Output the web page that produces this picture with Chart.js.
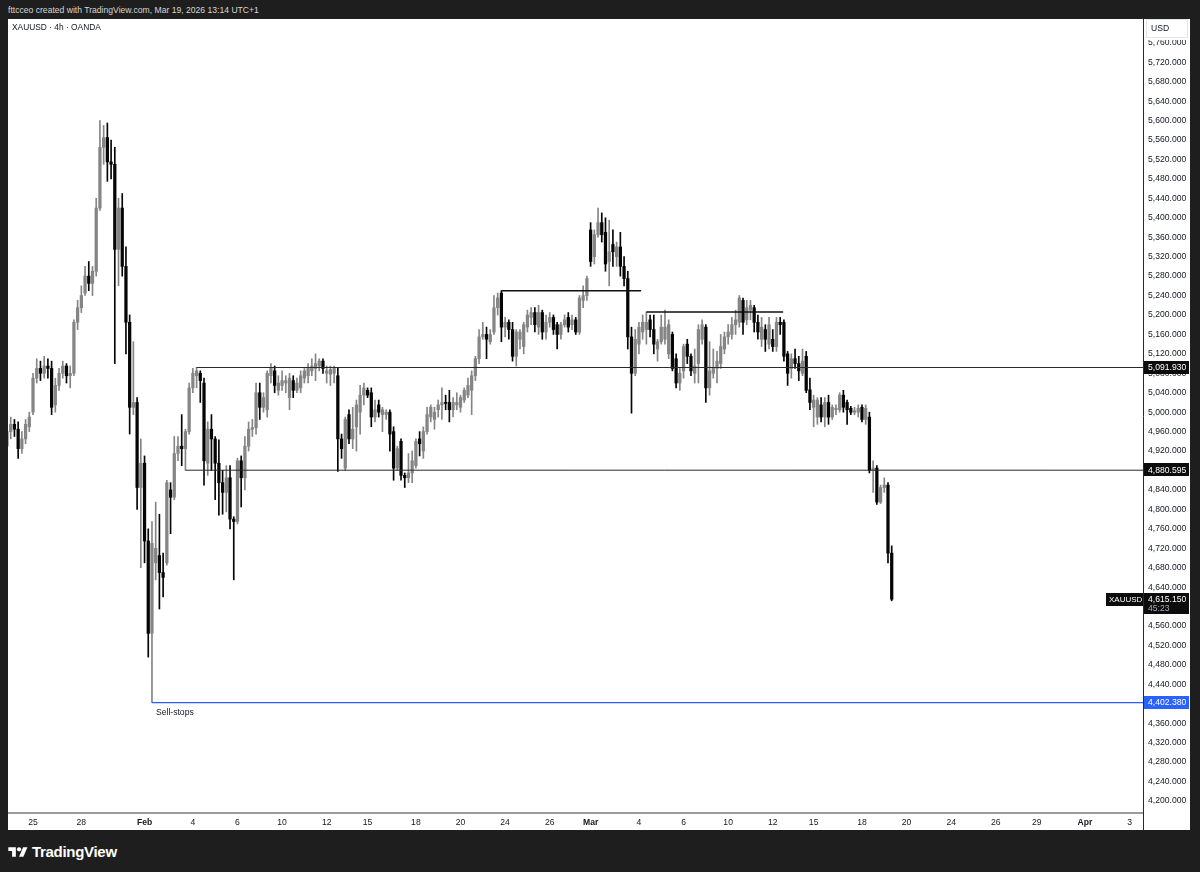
<!DOCTYPE html>
<html>
<head>
<meta charset="utf-8">
<script src="https://cdn.jsdelivr.net/npm/chart.js@4.4.1/dist/chart.umd.min.js"></script>
<style>
  html, body { margin: 0; padding: 0; background: #1e1e1e; width: 1200px; height: 872px; overflow: hidden;
    font-family: "Liberation Sans", Arial, sans-serif; }
  #top { position: absolute; left: 8px; top: 5px; color: #d6d6d6; font-size: 8.6px; }
  #panel { position: absolute; left: 8px; top: 19px; width: 1182px; height: 811px; background: #fff; }
  #brand { position: absolute; left: 8px; top: 843px; color: #fff; font-size: 15px; font-weight: bold;
    display: flex; align-items: center; gap: 4px; letter-spacing: -0.3px; }
</style>
</head>
<body>
<div id="top">fttcceo created with TradingView.com, Mar 19, 2026 13:14 UTC+1</div>
<div id="panel"><canvas id="chartGold" width="1182" height="811"></canvas></div>
<div id="brand">
  <svg width="20" height="14" viewBox="0 0 36 26"><path d="M14 22H7V11H0V4h14v18z" fill="#fff"/><circle cx="20" cy="8" r="4" fill="#fff"/><path d="M28 22h-8l7.5-18h8L28 22z" fill="#fff"/></svg>
  <span>TradingView</span>
</div>
<script>
// XAUUSD 4h candles (OANDA), Jan 23 -> Mar 19 2026, one entry per bar
const opens = [4930,4960,4975,4965,4925,4945,4970,5000,5070,5090,5080,5095,5090,5015,5055,5080,5095,5075,5080,5185,
  5215,5245,5280,5265,5290,5420,5545,5565,5515,5510,5335,5420,5300,5185,5010,5020,4845,4895,4735,4545,
  4690,4705,4670,4690,4840,4825,4915,4930,4925,4960,5050,5075,5080,5060,4895,4965,4945,4895,4855,4835,
  4865,4780,4775,4900,4865,4930,4965,4968,5040,5010,5005,5075,5085,5045,5055,5060,5030,5065,5045,5050,
  5070,5075,5085,5090,5095,5105,5080,5078,5080,5075,4945,4885,4995,4945,4970,5000,5035,5045,5040,4990,
  5015,4995,4995,5000,4960,4885,4940,4870,4865,4875,4890,4945,4920,4960,4990,4985,5005,5015,5020,5020,
  5005,5015,5010,5025,5035,5045,5075,5110,5155,5160,5145,5165,5215,5245,5175,5185,5170,5115,5150,5135,
  5175,5195,5205,5175,5205,5165,5185,5195,5180,5160,5180,5195,5180,5190,5165,5230,5240,5375,5320,5365,
  5390,5370,5310,5345,5320,5340,5300,5275,5155,5080,5140,5165,5170,5190,5170,5130,5145,5150,5120,5160,
  5110,5060,5085,5140,5115,5080,5100,5150,5175,5050,5080,5090,5100,5130,5155,5160,5180,5185,5230,5190,
  5210,5215,5185,5150,5170,5140,5150,5135,5185,5185,5120,5090,5110,5100,5080,5115,5046,5010,4990,5015,
  4990,5020,4990,5005,5005,5035,5020,5008,5000,5000,5010,4985,4990,4880,4885,4815,4845,4850,4710];
const highs = [4975,4990,4985,4980,4960,4985,5000,5080,5110,5105,5115,5110,5105,5070,5090,5105,5100,5095,5190,5230,
  5260,5300,5310,5300,5440,5600,5590,5595,5560,5545,5440,5450,5340,5200,5145,5030,4945,4910,4760,4775,
  4815,4790,4710,4860,4855,4950,4950,4995,4965,5060,5090,5091.93,5085,5070,4980,4995,4950,4943,4880,4890,
  4890,4785,4905,4910,4950,4980,4985,5060,5060,5040,5085,5100,5095,5075,5085,5075,5080,5075,5070,5085,
  5090,5100,5110,5120,5110,5110,5095,5095,5095,5090,4955,4990,5005,5010,5025,5055,5060,5050,5050,5025,
  5025,5010,5005,5005,4970,4930,4945,4875,4915,4920,4945,4960,4970,5010,5015,5010,5025,5050,5035,5045,
  5030,5040,5035,5050,5070,5085,5115,5170,5185,5175,5170,5240,5245,5250,5195,5190,5185,5170,5170,5185,
  5210,5215,5215,5220,5210,5200,5205,5200,5185,5185,5200,5205,5200,5195,5240,5260,5280,5390,5375,5420,
  5410,5400,5395,5375,5350,5370,5320,5290,5175,5170,5185,5200,5206,5200,5200,5150,5200,5210,5190,5165,
  5120,5090,5140,5150,5120,5130,5180,5190,5180,5145,5130,5125,5160,5165,5180,5195,5210,5240,5235,5230,
  5230,5220,5200,5195,5180,5195,5170,5195,5195,5190,5125,5120,5130,5115,5130,5125,5070,5035,5030,5030,
  5030,5035,5015,5015,5040,5045,5025,5012,5010,5015,5015,5015,5000,4900,4890,4850,4865,4855,4725];
const lows = [4900,4945,4950,4905,4915,4935,4960,4995,5060,5065,5070,5070,4995,5000,5045,5070,5060,5050,5075,5170,
  5205,5240,5250,5240,5280,5415,5510,5475,5480,5100,5260,5280,5120,4955,4995,4800,4680,4690,4496,4402.38,
  4655,4595,4620,4685,4750,4820,4900,4890,4880.595,4955,5040,5050,5020,4850,4870,4880,4820,4788,4790,4795,
  4760,4655,4770,4805,4840,4920,4950,4955,4985,5000,4990,5060,5040,5035,5045,5040,5005,5030,5040,5040,
  5060,5060,5075,5065,5085,5080,5060,5055,5060,4878,4905,4880,4935,4925,4920,4955,5015,5030,4970,4980,
  4990,4960,4985,4920,4860,4880,4860,4845,4855,4855,4885,4910,4905,4955,4980,4965,4990,4985,5005,4980,
  4990,5005,5000,5020,5030,4995,5065,5100,5150,5110,5140,5160,5200,5145,5155,5150,5105,5095,5130,5120,
  5165,5180,5165,5160,5150,5150,5175,5160,5130,5150,5175,5165,5170,5160,5160,5215,5230,5300,5305,5360,
  5350,5290,5260,5300,5300,5280,5260,5130,4998,5075,5120,5150,5140,5155,5120,5105,5140,5140,5110,5085,
  5050,5045,5070,5100,5075,5060,5060,5140,5020,5035,5070,5060,5090,5120,5140,5150,5160,5175,5160,5180,
  5190,5165,5150,5135,5125,5130,5125,5125,5160,5105,5055,5070,5090,5065,5075,5040,5005,4970,4975,4980,
  4970,4975,4985,4995,5000,5000,4975,4995,4995,4990,4980,4975,4875,4835,4810,4812,4835,4690,4612];
const closes = [4960,4975,4965,4925,4945,4975,4990,5070,5090,5080,5095,5090,5010,5055,5080,5095,5075,5080,5185,5215,
  5240,5280,5265,5290,5420,5545,5565,5515,5510,5335,5420,5300,5185,5010,5020,4845,4895,4735,4545,4730,
  4720,4670,4660,4855,4825,4915,4930,4925,4960,5050,5080,5085,5065,4900,4965,4945,4895,4855,4835,4865,
  4780,4775,4900,4865,4930,4965,4968,5040,5010,5030,5080,5090,5055,5060,5065,5065,5070,5045,5060,5075,
  5085,5090,5095,5100,5105,5090,5085,5088,5090,4945,4925,4985,4945,4965,5015,5035,5050,5035,4990,5005,
  5000,5005,5000,4955,4885,4925,4870,4865,4875,4900,4940,4935,4960,4995,5010,5000,5015,5020,5018,5005,
  5020,5020,5030,5045,5055,5075,5110,5155,5160,5150,5160,5215,5235,5175,5185,5170,5115,5165,5165,5180,
  5200,5205,5180,5205,5165,5185,5195,5170,5160,5180,5190,5175,5190,5165,5235,5240,5275,5310,5365,5390,
  5365,5305,5330,5330,5340,5300,5275,5155,5080,5150,5175,5185,5185,5170,5140,5145,5175,5175,5180,5090,
  5060,5080,5135,5115,5085,5095,5170,5180,5050,5085,5090,5105,5135,5155,5165,5180,5190,5235,5185,5215,
  5220,5185,5165,5175,5150,5180,5135,5185,5180,5115,5080,5110,5100,5085,5105,5045,5020,5025,5025,4990,
  5020,4990,5010,5008,5035,5010,5005,5000,5003,5008,4985,5008,4880,4885,4815,4845,4850,4710,4615.15];

// time axis: bar index of each date label (30 bars per trading week)
const tickIdx = [7, 20, 37, 50, 62, 74, 86, 97, 110, 122, 134, 146, 157, 170, 182, 194, 206, 217, 230, 242, 254, 266, 277, 290, 302];
const tickText = ['25', '28', 'Feb', '4', '6', '10', '12', '15', '18', '20', '24', '26', 'Mar', '4', '6', '10', '12', '15', '18', '20', '24', '26', '29', 'Apr', '3'];
const monthLabels = ['Feb', 'Mar', 'Apr'];
const xMin = 0.27, xMax = 305.6;

// drawn horizontal levels: price, start bar, end bar
const levelValues = [5091.93, 4880.595, 4402.38, 5250, 5206];
const levelFrom = [51, 48, 39, 133, 172];
const levelTo = [xMax, xMax, xMax, 170.6, 208.8];
const levelColors = ['#2a2a2a', '#2a2a2a', '#2962ff', '#111111', '#111111'];
const levelWidths = [1, 1, 1.2, 1.5, 1.5];

const lastPrice = 4615.15;
const fontFam = '"Liberation Sans", Arial, sans-serif';
const fs = 8.6;

const upColor = '#858585';
const downColor = '#050505';
const candleColors = opens.map((o, i) => closes[i] >= o ? upColor : downColor);

const wicks = opens.map((o, i) => ({ x: i, y: [lows[i], highs[i]] }));
const bodies = opens.map((o, i) => ({ x: i, y: [o, closes[i]] }));

const levelSets = levelValues.map((v, k) => ({
  type: 'line',
  data: [{ x: levelFrom[k], y: v }, { x: levelTo[k], y: v }],
  borderColor: levelColors[k],
  borderWidth: levelWidths[k],
  pointRadius: 0,
  order: 0
}));

const fmt = v => v.toLocaleString('en-US', { minimumFractionDigits: 3, maximumFractionDigits: 3 });

const overlay = {
  id: 'overlay',
  afterDraw(chart) {
    const { ctx, chartArea: a } = chart;
    const x = chart.scales.x, y = chart.scales.y;
    const W = chart.width;
    ctx.save();
    // axis separator down to the bottom
    ctx.strokeStyle = '#2a2a2a';
    ctx.lineWidth = 1;
    ctx.beginPath();
    ctx.moveTo(a.right + 0.5, a.bottom);
    ctx.lineTo(a.right + 0.5, chart.height);
    ctx.stroke();

    // symbol title
    ctx.fillStyle = '#131722';
    ctx.font = '8.4px ' + fontFam;
    ctx.textBaseline = 'middle';
    ctx.textAlign = 'left';
    ctx.fillText('XAUUSD · 4h · OANDA', 4, 9);

    // USD header on price axis
    ctx.fillStyle = '#fff';
    ctx.fillRect(a.right + 1, 0, W - a.right - 1, 21);
    ctx.strokeStyle = '#e3e5ea';
    ctx.strokeRect(a.right + 3.5, 0.5, W - a.right - 6, 18);
    ctx.fillStyle = '#131722';
    ctx.font = fs + 'px ' + fontFam;
    ctx.fillText('USD', a.right + 8, 10);

    // price tags
    const tag = (v, bg, fg) => {
      const py = y.getPixelForValue(v);
      ctx.fillStyle = bg;
      ctx.fillRect(a.right + 1, Math.round(py) - 7, W - a.right - 2, 13);
      ctx.fillStyle = fg;
      ctx.font = fs + 'px ' + fontFam;
      ctx.fillText(fmt(v), a.right + 5, py);
    };
    tag(levelValues[0], '#0c0c0c', '#fff');
    tag(levelValues[1], '#0c0c0c', '#fff');
    tag(levelValues[2], '#2962ff', '#fff');

    // last price with countdown
    const py = y.getPixelForValue(lastPrice);
    ctx.fillStyle = '#0c0c0c';
    ctx.fillRect(a.right + 1, Math.round(py) - 6, W - a.right - 2, 21);
    ctx.fillRect(a.right - 37, Math.round(py) - 6, 37, 13);
    ctx.fillStyle = '#fff';
    ctx.font = fs + 'px ' + fontFam;
    ctx.fillText(fmt(lastPrice), a.right + 5, py);
    ctx.font = '8px ' + fontFam;
    ctx.fillText('XAUUSD', a.right - 34, py + 0.5);
    ctx.fillStyle = '#a9acb3';
    ctx.font = fs + 'px ' + fontFam;
    ctx.fillText('45:23', a.right + 5, py + 9);

    // sell-stops note
    ctx.fillStyle = '#131722';
    ctx.font = fs + 'px ' + fontFam;
    ctx.fillText('Sell-stops', x.getPixelForValue(levelFrom[2]) + 4, y.getPixelForValue(levelValues[2]) + 10);
    ctx.restore();
  }
};

new Chart(document.getElementById('chartGold'), {
  type: 'bar',
  data: {
    datasets: [
      {
        data: wicks,
        backgroundColor: candleColors,
        barThickness: 1,
        grouped: false,
        order: 2
      },
      {
        data: bodies,
        backgroundColor: candleColors,
        barThickness: 2.6,
        minBarLength: 1,
        grouped: false,
        order: 1
      },
      ...levelSets
    ]
  },
  options: {
    responsive: false,
    animation: false,
    devicePixelRatio: 1,
    layout: { padding: 0 },
    plugins: { legend: { display: false }, tooltip: { enabled: false } },
    scales: {
      x: {
        type: 'linear',
        min: xMin,
        max: xMax,
        offset: false,
        grid: { display: false, drawTicks: false },
        border: { display: true, color: '#9a9a9a', width: 2 },
        afterBuildTicks: s => { s.ticks = tickIdx.map(v => ({ value: v })); },
        afterFit: s => { s.height = 17; s.paddingLeft = 0; s.paddingRight = 0; },
        ticks: {
          autoSkip: false,
          maxRotation: 0,
          padding: 4,
          color: '#131722',
          font: c => ({ family: fontFam, size: fs, weight: monthLabels.includes(tickText[c.index]) ? 'bold' : 'normal' }),
          callback: (v, i) => tickText[i]
        }
      },
      y: {
        position: 'right',
        min: 4175.3,
        max: 5809,
        grid: { display: false, drawTicks: false },
        border: { display: true, color: '#2a2a2a', width: 1 },
        afterFit: s => { s.width = 47; s.paddingTop = 0; s.paddingBottom = 0; },
        ticks: {
          stepSize: 40,
          includeBounds: false,
          autoSkip: false,
          padding: 5,
          color: '#131722',
          font: { family: fontFam, size: fs },
          callback: v => fmt(v)
        }
      }
    }
  },
  plugins: [overlay]
});
</script>
</body>
</html>
